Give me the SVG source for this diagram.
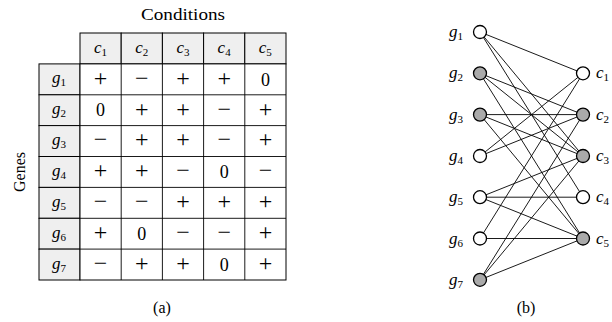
<svg xmlns="http://www.w3.org/2000/svg" width="612" height="322" viewBox="0 0 612 322" font-family="'Liberation Serif', 'DejaVu Serif', serif">
<style>
text{font-family:'Liberation Serif','DejaVu Serif',serif;fill:#000}
.v{font-size:18px;text-anchor:middle}
.s{font-size:24px;text-anchor:middle}
.it{font-style:italic;font-size:17px}
.sub{font-style:normal;font-size:11px}
.hd{fill:#efefef;stroke:#000;stroke-width:1}
.cl{fill:#fff;stroke:#000;stroke-width:1}
.e{stroke:#000;stroke-width:0.9;fill:none}
.nw{fill:#fff;stroke:#000;stroke-width:1.3}
.ng{fill:#aaa;stroke:#000;stroke-width:1.3}
.cap{font-size:16px;text-anchor:middle}
</style>
<rect width="612" height="322" fill="#fff"/>
<text x="183" y="20" font-size="16" text-anchor="middle" textLength="84" lengthAdjust="spacingAndGlyphs">Conditions</text>
<text transform="translate(25,172) rotate(-90)" font-size="16" text-anchor="middle">Genes</text>
<g id="table">
<g id="header">
<rect class="hd" x="80" y="33" width="41.2" height="30.9"/>
<rect class="hd" x="121.2" y="33" width="41.2" height="30.9"/>
<rect class="hd" x="162.4" y="33" width="41.2" height="30.9"/>
<rect class="hd" x="203.6" y="33" width="41.2" height="30.9"/>
<rect class="hd" x="244.8" y="33" width="41.2" height="30.9"/>
<text class="it" x="94" y="53">c<tspan class="sub" dy="3">1</tspan></text>
<text class="it" x="135.2" y="53">c<tspan class="sub" dy="3">2</tspan></text>
<text class="it" x="176.4" y="53">c<tspan class="sub" dy="3">3</tspan></text>
<text class="it" x="217.6" y="53">c<tspan class="sub" dy="3">4</tspan></text>
<text class="it" x="258.8" y="53">c<tspan class="sub" dy="3">5</tspan></text>
</g>
<g id="rowheads">
<rect class="hd" x="39" y="63.9" width="41" height="30.9"/>
<rect class="hd" x="39" y="94.8" width="41" height="30.9"/>
<rect class="hd" x="39" y="125.6" width="41" height="30.9"/>
<rect class="hd" x="39" y="156.5" width="41" height="30.9"/>
<rect class="hd" x="39" y="187.4" width="41" height="30.9"/>
<rect class="hd" x="39" y="218.3" width="41" height="30.9"/>
<rect class="hd" x="39" y="249.1" width="41" height="30.9"/>
<text class="it" x="52" y="83">g<tspan class="sub" dy="3">1</tspan></text>
<text class="it" x="52" y="114">g<tspan class="sub" dy="3">2</tspan></text>
<text class="it" x="52" y="145">g<tspan class="sub" dy="3">3</tspan></text>
<text class="it" x="52" y="176">g<tspan class="sub" dy="3">4</tspan></text>
<text class="it" x="52" y="207">g<tspan class="sub" dy="3">5</tspan></text>
<text class="it" x="52" y="237.5">g<tspan class="sub" dy="3">6</tspan></text>
<text class="it" x="52" y="268.5">g<tspan class="sub" dy="3">7</tspan></text>
</g>
<g id="cells">
<rect class="cl" x="80" y="63.9" width="206" height="216.1"/>
<path class="e" stroke-width="1" d="M121.2 63.9V280M162.4 63.9V280M203.6 63.9V280M244.8 63.9V280M80 94.8H286M80 125.6H286M80 156.5H286M80 187.4H286M80 218.3H286M80 249.1H286"/>
<text class="s" x="100.6" y="85.5">+</text><text class="s" x="141.8" y="85.5">−</text><text class="s" x="183" y="85.5">+</text><text class="s" x="224.2" y="85.5">+</text><text class="v" x="265.4" y="85.5">0</text>
<text class="v" x="100.6" y="116.4">0</text><text class="s" x="141.8" y="116.5">+</text><text class="s" x="183" y="116.5">+</text><text class="s" x="224.2" y="116.5">−</text><text class="s" x="265.4" y="116.5">+</text>
<text class="s" x="100.6" y="147.3">−</text><text class="s" x="141.8" y="147.3">+</text><text class="s" x="183" y="147.3">+</text><text class="s" x="224.2" y="147.3">−</text><text class="s" x="265.4" y="147.3">+</text>
<text class="s" x="100.6" y="178.2">+</text><text class="s" x="141.8" y="178.2">+</text><text class="s" x="183" y="178.2">−</text><text class="v" x="224.2" y="178.1">0</text><text class="s" x="265.4" y="178.2">−</text>
<text class="s" x="100.6" y="209">−</text><text class="s" x="141.8" y="209">−</text><text class="s" x="183" y="209">+</text><text class="s" x="224.2" y="209">+</text><text class="s" x="265.4" y="209">+</text>
<text class="s" x="100.6" y="240">+</text><text class="v" x="141.8" y="240">0</text><text class="s" x="183" y="240">−</text><text class="s" x="224.2" y="240">−</text><text class="s" x="265.4" y="240">+</text>
<text class="s" x="100.6" y="270.8">−</text><text class="s" x="141.8" y="270.8">+</text><text class="s" x="183" y="270.8">+</text><text class="v" x="224.2" y="270.8">0</text><text class="s" x="265.4" y="270.8">+</text>
</g>
</g>
<text class="cap" x="162" y="313">(a)</text>
<text class="cap" x="526" y="313">(b)</text>
<g id="edges">
<line class="e" x1="480" y1="32" x2="583" y2="73.3"/>
<line class="e" x1="480" y1="32" x2="583" y2="156"/>
<line class="e" x1="480" y1="32" x2="583" y2="197.2"/>
<line class="e" x1="480" y1="73.3" x2="583" y2="114.6"/>
<line class="e" x1="480" y1="73.3" x2="583" y2="156"/>
<line class="e" x1="480" y1="73.3" x2="583" y2="238.5"/>
<line class="e" x1="480" y1="114.6" x2="583" y2="114.6"/>
<line class="e" x1="480" y1="114.6" x2="583" y2="156"/>
<line class="e" x1="480" y1="114.6" x2="583" y2="238.5"/>
<line class="e" x1="480" y1="156" x2="583" y2="73.3"/>
<line class="e" x1="480" y1="156" x2="583" y2="114.6"/>
<line class="e" x1="480" y1="197.2" x2="583" y2="156"/>
<line class="e" x1="480" y1="197.2" x2="583" y2="197.2"/>
<line class="e" x1="480" y1="197.2" x2="583" y2="238.5"/>
<line class="e" x1="480" y1="238.5" x2="583" y2="73.3"/>
<line class="e" x1="480" y1="238.5" x2="583" y2="238.5"/>
<line class="e" x1="480" y1="279.8" x2="583" y2="114.6"/>
<line class="e" x1="480" y1="279.8" x2="583" y2="156"/>
<line class="e" x1="480" y1="279.8" x2="583" y2="238.5"/>
</g>
<g id="g1"><circle class="nw" cx="480" cy="32" r="6.5"/><text class="it" x="449" y="37">g<tspan class="sub" dy="3">1</tspan></text></g>
<g id="g2"><circle class="ng" cx="480" cy="73.3" r="6.5"/><text class="it" x="449" y="78.3">g<tspan class="sub" dy="3">2</tspan></text></g>
<g id="g3"><circle class="ng" cx="480" cy="114.6" r="6.5"/><text class="it" x="449" y="119.6">g<tspan class="sub" dy="3">3</tspan></text></g>
<g id="g4"><circle class="nw" cx="480" cy="156" r="6.5"/><text class="it" x="449" y="161">g<tspan class="sub" dy="3">4</tspan></text></g>
<g id="g5"><circle class="nw" cx="480" cy="197.2" r="6.5"/><text class="it" x="449" y="202.2">g<tspan class="sub" dy="3">5</tspan></text></g>
<g id="g6"><circle class="nw" cx="480" cy="238.5" r="6.5"/><text class="it" x="449" y="243.5">g<tspan class="sub" dy="3">6</tspan></text></g>
<g id="g7"><circle class="ng" cx="480" cy="279.8" r="6.5"/><text class="it" x="449" y="284.8">g<tspan class="sub" dy="3">7</tspan></text></g>
<g id="c1"><circle class="nw" cx="583" cy="73.3" r="6.5"/><text class="it" x="596" y="78.3">c<tspan class="sub" dy="3">1</tspan></text></g>
<g id="c2"><circle class="ng" cx="583" cy="114.6" r="6.5"/><text class="it" x="596" y="119.6">c<tspan class="sub" dy="3">2</tspan></text></g>
<g id="c3"><circle class="ng" cx="583" cy="156" r="6.5"/><text class="it" x="596" y="161">c<tspan class="sub" dy="3">3</tspan></text></g>
<g id="c4"><circle class="nw" cx="583" cy="197.2" r="6.5"/><text class="it" x="596" y="202.2">c<tspan class="sub" dy="3">4</tspan></text></g>
<g id="c5"><circle class="ng" cx="583" cy="238.5" r="6.5"/><text class="it" x="596" y="243.5">c<tspan class="sub" dy="3">5</tspan></text></g>
</svg>
